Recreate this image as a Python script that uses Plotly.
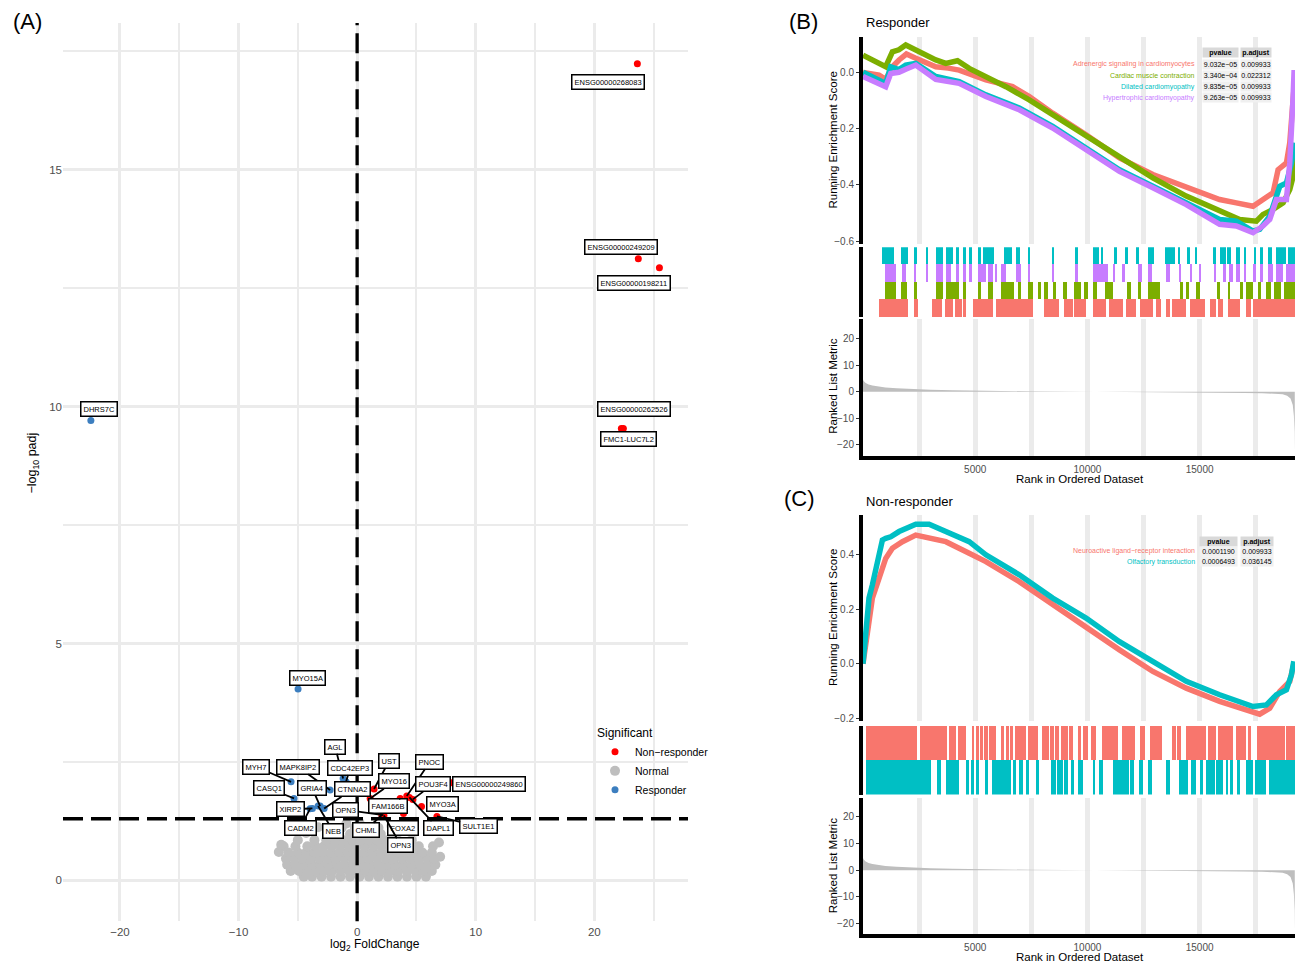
import plotly.graph_objects as go

W, H = 1306, 967
FONT = "Liberation Sans, Arial, sans-serif"
TICK = "#4D4D4D"
GRID = "#EBEBEB"

# ================= Panel A : volcano data =================
nonresp_gene = ["ENSG00000268083", "ENSG00000249209", "ENSG00000198211", "ENSG00000262526",
                "FMC1-LUC7L2", "UST", "MYO16", "FAM166B", "PNOC", "POU3F4", "ENSG00000249860",
                "MYO3A", "DAPL1", "FOXA2", "OPN3", "CHML", "OPN3", "SULT1E1"]
nonresp_lfc = [23.63, 23.71, 25.49, 22.45, 22.28, 1.43, 1.10, 3.63, 4.19, 4.70, 7.99,
               5.43, 4.41, 3.91, 2.22, 2.08, 2.26, 6.73]
nonresp_padj = [17.24, 13.12, 12.93, 9.54, 9.54, 1.93, 1.73, 1.73, 1.78, 1.71, 2.06,
                1.56, 1.75, 1.41, 1.38, 1.38, 1.37, 1.35]

resp_gene = ["DHRS7C", "MYO15A", "MYH7", "CASQ1", "MAPK8IP2", "GRIA4", "XIRP2", "CADM2",
             "NEB", "CTNNA2", "AGL", "CDC42EP3"]
resp_lfc = [-22.45, -4.98, -5.57, -5.32, -2.28, -3.12, -3.77, -3.97, -3.29, -2.78, -1.18, -0.93]
resp_padj = [9.71, 4.04, 2.08, 1.73, 1.91, 1.57, 1.52, 1.51, 1.57, 1.52, 2.15, 2.08]

normal_lfc = [
    -4.5, -3.8, -3.0, -2.2, -1.4, -0.6, 0.2, 1.0, 1.8, 2.6, 3.4, 4.2, 5.0, 5.8,
    -5.6, -4.9, -4.2, -3.5, -2.8, -2.1, -1.4, -0.7, 0.0, 0.7, 1.4, 2.1, 2.8, 3.5, 4.2, 4.9, 5.6, 6.3,
    -5.9, -5.2, -4.5, -3.8, -3.1, -2.4, -1.7, -1.0, -0.3, 0.4, 1.1, 1.8, 2.5, 3.2, 3.9, 4.6, 5.3, 6.0, 6.6,
    -6.0, -5.3, -4.6, -3.9, -3.2, -2.5, -1.8, -1.1, -0.4, 0.3, 1.0, 1.7, 2.4, 3.1, 3.8, 4.5, 5.2, 5.9, 6.5,
    -5.8, -5.0, -4.3, -3.6, -2.9, -2.2, -1.5, -0.8, -0.1, 0.6, 1.3, 2.0, 2.7, 3.4, 4.1, 4.8, 5.5, 6.3,
    -6.2, -5.2, -4.2, -3.5, -2.8, -2.1, -1.4, -0.7, 0.0, 0.7, 1.4, 2.1, 2.8, 3.5, 4.3, 5.2, 6.4,
    -5.0, -3.6, -2.6, -1.8, -1.1, -0.4, 0.3, 1.0, 1.7, 2.5, 3.4, 4.6,
    -2.4, -1.5, -0.6, 0.3, 1.2, 2.0, 3.0,
    -1.3, -0.2, 0.9, 1.8,
    -6.6, 7.0, -6.4, 6.9, -4.3, 4.1, -3.3, 2.9, 0.2, -0.9]
normal_padj = (
    [0.08] * 14 + [0.20] * 18 + [0.33] * 19 + [0.46] * 19 + [0.59] * 18 + [0.72] * 17 +
    [0.85] * 12 + [0.98] * 7 + [1.11] * 4 +
    [0.60, 0.50, 0.75, 0.80, 1.00, 1.05, 1.12, 1.15, 1.22, 1.20])

lfc_cut = 0.0
padj_cut = 1.301          # -log10(0.05)

# label box offsets in pixels (dx, dy) and whether a connector segment is drawn
nonresp_lab = [(-29, 18, False), (-17, -12, False), (-25, 15, False), (11, -19, False),
               (7, 11, False), (15, -28, True), (24, -17, True), (-12, 8, True), (23, -34, True),
               (20, -15, True), (37, 1, False), (21, -2, False), (29, 31, True), (0, 14, False),
               (-38, -5, True), (-16, 15, True), (17, 30, True), (42, 10, True)]
resp_lab = [(8, -11, False), (9, -11, False), (-35, -15, True), (-25, -10, True),
            (-32, -23, True), (-8, -18, True), (-22, 1, True), (-10, 19, True),
            (15, 25, True), (28, -19, True), (-8, -32, True), (4, -14, True)]

# ================= Panels B / C : GSEA data =================
metric_rank = [0, 30, 120, 250, 420, 700, 1000, 1500, 2000, 2500, 3000, 4000, 5000, 6000, 7500,
               9000, 10300, 10400, 11000, 11100, 12500, 14000, 15000, 16000, 17000, 17800,
               18300, 18700, 18900, 19050, 19150, 19200, 19230, 19240]
metric_value = [4.6, 4.0, 3.3, 2.7, 2.3, 1.9, 1.6, 1.25, 1.0, 0.85, 0.7, 0.5, 0.35, 0.25, 0.15,
                0.08, 0.03, 0.0, 0.0, -0.03, -0.1, -0.18, -0.25, -0.35, -0.45, -0.55,
                -0.7, -1.0, -1.5, -2.6, -5.0, -9.0, -15.0, -22.5]

resp_sets = ["Adrenergic signaling in cardiomyocytes", "Cardiac muscle contraction",
             "Dilated cardiomyopathy", "Hypertrophic cardiomyopathy"]
resp_pvalue = ["9.032e−05", "3.340e−04", "9.835e−05", "9.263e−05"]
resp_padjust = ["0.009933", "0.022312", "0.009933", "0.009933"]

adrenergic_rank = [0, 714, 1012, 1310, 1607, 1934, 2351, 2800, 3244, 3800, 4285, 5476, 6666, 7410,
                   8452, 9940, 11428, 12916, 14404, 15892, 16636, 17380, 17826, 18273, 18496,
                   18868, 19017, 19092, 19166, 19240]
adrenergic_es = [0.0, -0.01, -0.025, 0.02, 0.044, 0.065, 0.05, 0.035, 0.02, 0.015, 0.008, -0.027,
                 -0.051, -0.086, -0.145, -0.222, -0.304, -0.363, -0.41, -0.452, -0.464, -0.476,
                 -0.452, -0.428, -0.346, -0.322, -0.25, -0.145, -0.05, -0.02]
cardiac_rank = [0, 1012, 1310, 1600, 1905, 2351, 2800, 3244, 3690, 4211, 4732, 5476, 6369, 7410,
                8452, 9940, 11428, 12916, 14404, 15892, 16785, 17529, 17826, 18273, 18719,
                19017, 19166, 19240]
cardiac_es = [0.061, 0.02, 0.073, 0.08, 0.097, 0.079, 0.06, 0.044, 0.032, 0.041, 0.014, -0.015,
              -0.051, -0.098, -0.151, -0.228, -0.304, -0.375, -0.44, -0.493, -0.523, -0.529,
              -0.505, -0.487, -0.464, -0.417, -0.37, -0.30]
dilated_rank = [0, 1012, 1235, 1600, 1905, 2351, 3244, 4285, 5476, 6964, 8452, 9940, 11428,
                12916, 14404, 15892, 16636, 17380, 17677, 18124, 18570, 18868, 19092, 19196, 19240]
dilated_es = [0.0, -0.04, 0.02, 0.01, 0.026, 0.032, -0.015, -0.033, -0.08, -0.127, -0.192,
              -0.269, -0.346, -0.405, -0.464, -0.523, -0.529, -0.564, -0.558, -0.511, -0.405,
              -0.393, -0.322, -0.275, -0.25]
hypertrophic_rank = [0, 1012, 1235, 1600, 1905, 2351, 3244, 4285, 5476, 6964, 8452, 9940, 11428,
                     12916, 14404, 15892, 16636, 17380, 17826, 18124, 18421, 18868, 19017,
                     19166, 19211]
hypertrophic_es = [-0.015, -0.051, -0.004, 0.0, 0.011, 0.026, -0.025, -0.039, -0.086, -0.133,
                   -0.198, -0.275, -0.352, -0.41, -0.47, -0.54, -0.546, -0.57, -0.546, -0.523,
                   -0.452, -0.452, -0.322, -0.086, 0.008]

hits_adrenergic = [[714, 2024], [2277, 2455], [3095, 3541], [3660, 4018], [4107, 4404], [4464, 4583],
                   [4881, 5773], [5922, 7559], [8080, 8749], [8973, 9345], [9419, 9940],
                   [10267, 10833], [10952, 11577], [11725, 12172], [12321, 12916], [13035, 13288],
                   [13511, 13660], [13779, 14404], [14553, 15222], [15445, 15743], [15817, 16041],
                   [16264, 16785], [17082, 17305], [17380, 19240]]
hits_cardiac = [[967, 1488], [1682, 1979], [2277, 2426], [3274, 3571], [3720, 4285], [4434, 4583],
                [5104, 5253], [5550, 5773], [6145, 6741], [6889, 7038], [7336, 7559], [7782, 7931],
                [8080, 8229], [8452, 8601], [8898, 9077], [9419, 9717], [9865, 10014],
                [10267, 10416], [10803, 11130], [11755, 11949], [12246, 12395], [12693, 13213],
                [14106, 14255], [14404, 14523], [14850, 14999], [15817, 15892], [16264, 16368],
                [16815, 16934], [17082, 17380], [17603, 17752], [17975, 18198], [18302, 18645],
                [18749, 19240]]
hits_dilated = [[833, 1384], [1682, 2024], [2277, 2426], [2828, 2916], [3274, 3571], [3690, 3988],
                [4166, 4256], [4464, 4583], [4762, 4851], [5104, 5253], [5327, 5848], [6294, 6637],
                [6815, 6994], [7336, 7440], [8422, 8526], [9464, 9568], [10267, 10535],
                [10610, 10714], [11205, 11309], [11696, 11800], [12172, 12291], [12693, 12946],
                [13437, 13883], [14032, 14136], [14434, 14553], [14776, 14880], [15594, 15743],
                [15892, 16160], [16219, 16413], [16607, 16815], [16964, 17082], [17410, 17529],
                [17708, 17826], [18050, 18243], [18392, 18868], [18943, 19240]]
hits_hypertrophic = [[967, 1488], [1726, 1934], [2277, 2381], [2797, 2916], [3274, 3571],
                     [3720, 3913], [4137, 4256], [4434, 4583], [4762, 4851], [5104, 5476],
                     [5550, 5773], [5892, 5952], [6145, 6369], [6815, 7038], [7336, 7440],
                     [8452, 8526], [9464, 9568], [10267, 10907], [11130, 11249], [11547, 11696],
                     [12246, 12440], [12693, 12886], [13511, 13660], [14106, 14181], [14553, 14642],
                     [14999, 15073], [15669, 15743], [16041, 16190], [16308, 16487], [16636, 16815],
                     [17008, 17082], [17380, 17529], [17677, 17826], [18050, 18273], [18421, 18719],
                     [18868, 19240]]

nonresp_sets = ["Neuroactive ligand−receptor interaction", "Olfactory transduction"]
nonresp_pvalue = ["0.0001190", "0.0006493"]
nonresp_padjust = ["0.009933", "0.036145"]

neuro_rank = [0, 268, 417, 714, 1012, 1310, 1756, 2351, 2946, 3690, 4732, 5476, 6964, 8452, 9940,
              11428, 12916, 14404, 15892, 17380, 17677, 18124, 18570, 19017, 19196]
neuro_es = [0.0, 0.179, 0.24, 0.312, 0.385, 0.422, 0.446, 0.47, 0.458, 0.446, 0.404, 0.373, 0.3,
            0.215, 0.136, 0.051, -0.028, -0.089, -0.137, -0.174, -0.184, -0.162, -0.101, -0.064, 0.0]
olf_rank = [0, 193, 268, 417, 565, 714, 863, 1012, 1235, 1607, 2053, 2351, 2946, 3690, 4732, 5476,
            6964, 8452, 9940, 11428, 12916, 14404, 15892, 16636, 17380, 17975, 18421, 18868,
            19092, 19196]
olf_es = [0.0, 0.167, 0.24, 0.288, 0.349, 0.385, 0.452, 0.458, 0.464, 0.483, 0.5, 0.51, 0.51,
          0.483, 0.446, 0.398, 0.325, 0.24, 0.167, 0.081, 0.009, -0.064, -0.113, -0.137, -0.156,
          -0.15, -0.113, -0.095, -0.04, 0.009]

hits_neuro = [[119, 2426], [2530, 3765], [3839, 4137], [4211, 4583], [4851, 4955], [5029, 5178],
              [5253, 5327], [5401, 5550], [5625, 5922], [6145, 6294], [6369, 6517], [6592, 6666],
              [6785, 7261], [7336, 7782], [7976, 8303], [8333, 8526], [8571, 8749], [8824, 9121],
              [9196, 9345], [9568, 9717], [9791, 10014], [10163, 10386], [10654, 11353],
              [11547, 12142], [12321, 12544], [12797, 13332], [13779, 13928], [13987, 14181],
              [14404, 15297], [15371, 15743], [15817, 16487], [16636, 17082], [17157, 17305],
              [17558, 18793], [18868, 19240]]
hits_olf = [[119, 2351], [2381, 3021], [3318, 3467], [3690, 4285], [4583, 4732], [4806, 4955],
            [5029, 5148], [5446, 5550], [5744, 6592], [6666, 6815], [6934, 7113], [7261, 7380],
            [7708, 7827], [8377, 8601], [8630, 8898], [8973, 9121], [9270, 9419], [9568, 9821],
            [10237, 10356], [10535, 10714], [11130, 11874], [11904, 12097], [12291, 12469],
            [12693, 12886], [13511, 13660], [14076, 14478], [14627, 14850], [14999, 15148],
            [15297, 15669], [15743, 16041], [16160, 16264], [16368, 16487], [16666, 16785],
            [17082, 17380], [17454, 17975], [18094, 19240]]

rank_ticks = [5000, 10000, 15000]
rank_tick_text = ["5000", "10000", "15000"]

RED, GREEN, CYAN, PURPLE = "#F8766D", "#7CAE00", "#00BFC4", "#C77CFF"
RANK_RANGE = [0, 19250]

# ================= helpers =================
def xdom(p0, p1):
    return [p0 / W, p1 / W]


def ydom(p0, p1):
    return [1 - p1 / H, 1 - p0 / H]


def px(x):
    return x / W


def py(y):
    return 1 - y / H


fig = go.Figure()
ann = []

# ---------- Panel A traces ----------
fig.add_trace(go.Scatter(x=normal_lfc, y=normal_padj, mode="markers", name="Normal",
                         marker=dict(color="#BEBEBE", size=10), legendrank=2,
                         xaxis="x", yaxis="y", hoverinfo="skip"))
fig.add_trace(go.Scatter(x=nonresp_lfc, y=nonresp_padj, mode="markers", name="Non−responder",
                         marker=dict(color="#FF0000", size=7), legendrank=1,
                         xaxis="x", yaxis="y", text=nonresp_gene))
fig.add_trace(go.Scatter(x=resp_lfc, y=resp_padj, mode="markers", name="Responder",
                         marker=dict(color="#3C7EBF", size=7), legendrank=3,
                         xaxis="x", yaxis="y", text=resp_gene))


def add_labels(genes, xs, ys, labs):
    for g, x, y, (dx, dy, seg) in zip(genes, xs, ys, labs):
        common = dict(x=x, y=y, xref="x", yref="y", text=g,
                      font=dict(size=7.5, color="black", family=FONT),
                      bgcolor="white", bordercolor="black", borderwidth=1.5, borderpad=2)
        if seg:
            ann.append(dict(**common, showarrow=True, ax=dx, ay=dy, arrowhead=0,
                            arrowwidth=1.8, arrowcolor="black", standoff=0))
        else:
            ann.append(dict(**common, showarrow=False, xshift=dx, yshift=-dy))


add_labels(nonresp_gene, nonresp_lfc, nonresp_padj, nonresp_lab)
add_labels(resp_gene, resp_lfc, resp_padj, resp_lab)

shapes = [
    dict(type="line", xref="x", yref="y domain", x0=lfc_cut, x1=lfc_cut, y0=0, y1=1,
         line=dict(color="black", width=3.3, dash="20px,8px")),
    dict(type="line", xref="x domain", yref="y", x0=0, x1=1, y0=padj_cut, y1=padj_cut,
         line=dict(color="black", width=3.3, dash="20px,8px")),
]

# ---------- GSEA traces ----------
def es_line(xs, ys, color, ax):
    fig.add_trace(go.Scatter(x=xs, y=ys, mode="lines", line=dict(color=color, width=5.5),
                             showlegend=False, xaxis="x" + ax, yaxis="y" + ax, hoverinfo="skip"))


def hit_bars(intervals, base, color, ax):
    centers = [(a + b) / 2 for a, b in intervals]
    widths = [b - a for a, b in intervals]
    fig.add_trace(go.Bar(x=centers, width=widths, y=[1] * len(intervals),
                         base=[base] * len(intervals), marker=dict(color=color, line=dict(width=0)),
                         showlegend=False, xaxis="x" + ax, yaxis="y" + ax, hoverinfo="skip"))


def metric_area(ax):
    fig.add_trace(go.Scatter(x=metric_rank, y=metric_value, mode="lines", fill="tozeroy",
                             fillcolor="#BEBEBE", line=dict(width=0, color="#BEBEBE"),
                             showlegend=False, xaxis="x" + ax, yaxis="y" + ax, hoverinfo="skip"))


# Panel B
es_line(adrenergic_rank, adrenergic_es, RED, "2")
es_line(cardiac_rank, cardiac_es, GREEN, "2")
es_line(dilated_rank, dilated_es, CYAN, "2")
es_line(hypertrophic_rank, hypertrophic_es, PURPLE, "2")
hit_bars(hits_adrenergic, 0, RED, "3")
hit_bars(hits_cardiac, 1, GREEN, "3")
hit_bars(hits_hypertrophic, 2, PURPLE, "3")
hit_bars(hits_dilated, 3, CYAN, "3")
metric_area("4")

# Panel C
es_line(neuro_rank, neuro_es, RED, "5")
es_line(olf_rank, olf_es, CYAN, "5")
hit_bars(hits_neuro, 1, RED, "6")
hit_bars(hits_olf, 0, CYAN, "6")
metric_area("7")

# ---------- axes ----------
tickfont = dict(family=FONT, size=11.5, color=TICK)
small_tick = dict(family=FONT, size=10, color=TICK)

layout_axes = dict(
    xaxis=dict(domain=xdom(63, 688), anchor="y", range=[-24.8, 27.9], tick0=0, dtick=10,
               showgrid=True, gridcolor=GRID, gridwidth=2.7, zeroline=False, showline=False,
               ticks="", tickfont=tickfont, ticklabelstandoff=2,
               minor=dict(dtick=5, tick0=0, showgrid=True, gridcolor=GRID, gridwidth=1.7)),
    yaxis=dict(domain=ydom(23, 924), anchor="x", range=[-0.86, 18.1], tick0=0, dtick=5,
               showgrid=True, gridcolor=GRID, gridwidth=2.7, zeroline=False, showline=False,
               ticks="", tickfont=tickfont,
               minor=dict(dtick=2.5, tick0=0, showgrid=True, gridcolor=GRID, gridwidth=1.7)),
)

rank_minor = dict(tick0=0, dtick=2500, showgrid=True, gridcolor=GRID, gridwidth=5)


def gsea_axes(n_es, n_hit, n_met, es_px, hit_px, met_px, es_range, es_ticks, es_text, hit_rows):
    xd = xdom(863, 1295)
    d = {}
    d["xaxis" + n_es] = dict(domain=xd, anchor="y" + n_es, range=RANK_RANGE, tickvals=rank_ticks,
                             showticklabels=False, showgrid=True, gridcolor=GRID, gridwidth=5,
                             zeroline=False, showline=False, ticks="", minor=rank_minor)
    d["yaxis" + n_es] = dict(domain=ydom(*es_px), anchor="x" + n_es, range=es_range,
                             tickvals=es_ticks, ticktext=es_text, showgrid=False, zeroline=False,
                             showline=True, linecolor="black", linewidth=4, ticks="outside",
                             ticklen=3, tickcolor="#333333", tickfont=small_tick)
    d["xaxis" + n_hit] = dict(domain=xd, anchor="y" + n_hit, range=RANK_RANGE,
                              showticklabels=False, showgrid=False, zeroline=False,
                              showline=False, ticks="")
    d["yaxis" + n_hit] = dict(domain=ydom(*hit_px), anchor="x" + n_hit, range=[0, hit_rows],
                              showticklabels=False, showgrid=False, zeroline=False,
                              showline=True, linecolor="black", linewidth=4, ticks="")
    d["xaxis" + n_met] = dict(domain=xd, anchor="y" + n_met, range=RANK_RANGE,
                              tickvals=rank_ticks, ticktext=rank_tick_text, showgrid=True,
                              gridcolor=GRID, gridwidth=5, zeroline=False, showline=True,
                              linecolor="black", linewidth=4, ticks="", tickfont=small_tick,
                              ticklabelstandoff=1, minor=rank_minor)
    d["yaxis" + n_met] = dict(domain=ydom(*met_px), anchor="x" + n_met, range=[-24, 27.3],
                              tickvals=[-20, -10, 0, 10, 20],
                              ticktext=["−20", "−10", "0", "10", "20"], showgrid=False,
                              zeroline=False, showline=True, linecolor="black", linewidth=4,
                              ticks="outside", ticklen=3, tickcolor="#333333", tickfont=small_tick)
    return d


layout_axes.update(gsea_axes("2", "3", "4", (37, 245), (248, 318), (320, 457),
                             [-0.611, 0.126], [-0.6, -0.4, -0.2, 0.0],
                             ["−0.6", "−0.4", "−0.2", "0.0"], 4))
layout_axes.update(gsea_axes("5", "6", "7", (517, 723), (728, 797), (800, 937),
                             [-0.208, 0.542], [-0.2, 0.0, 0.2, 0.4],
                             ["−0.2", "0.0", "0.2", "0.4"], 2))

# ---------- text annotations ----------
def txt(x, y, s, size, color="black", angle=0, xanchor="center", bold=False):
    ann.append(dict(x=px(x), y=py(y), xref="paper", yref="paper", text=("<b>%s</b>" % s) if bold else s,
                    showarrow=False, textangle=angle, xanchor=xanchor, yanchor="middle",
                    font=dict(family=FONT, size=size, color=color)))


txt(27, 22, "(A)", 22)
txt(803, 22, "(B)", 22)
txt(800, 500, "(C)", 22)
txt(375, 948, "log<sub>2</sub> FoldChange", 12)
txt(33, 465, "−log<sub>10</sub> padj", 12.5, angle=-90)
txt(864, 23, "Responder", 13, xanchor="left")
txt(864, 503, "Non-responder", 13, xanchor="left")
txt(833, 141, "Running Enrichment Score", 11.5, angle=-90)
txt(833, 388, "Ranked List Metric", 11.5, angle=-90)
txt(1080, 480.5, "Rank in Ordered Dataset", 11.5)
txt(833, 620, "Running Enrichment Score", 11.5, angle=-90)
txt(833, 869, "Ranked List Metric", 11.5, angle=-90)
txt(1080, 959.5, "Rank in Ordered Dataset", 11.5)


def cell(x, y, s, w, bg, bold=False):
    ann.append(dict(x=px(x), y=py(y), xref="paper", yref="paper",
                    text=("<b>%s</b>" % s) if bold else s, showarrow=False,
                    xanchor="center", yanchor="middle", width=w, height=9, bgcolor=bg,
                    borderpad=0, font=dict(family=FONT, size=7, color="black")))


def table(names, colors, pvals, padjs, header_y, row_ys, pcol, pw, acol, aw):
    cell(pcol, header_y, "pvalue", pw, "#D9D9D9", bold=True)
    cell(acol, header_y, "p.adjust", aw, "#D9D9D9", bold=True)
    for nm, col, pv, pa, ry in zip(names, colors, pvals, padjs, row_ys):
        ann.append(dict(x=px(1197), y=py(ry), xref="paper", yref="paper", text=nm,
                        showarrow=False, xanchor="right", yanchor="middle",
                        font=dict(family=FONT, size=7, color=col)))
        cell(pcol, ry, pv, pw, "#F0F0F0")
        cell(acol, ry, pa, aw, "#F0F0F0")


table(resp_sets, [RED, GREEN, CYAN, PURPLE], resp_pvalue, resp_padjust,
      53, [64.5, 75.8, 87, 98.2], 1220.5, 35, 1255.5, 30)
table(nonresp_sets, [RED, CYAN], nonresp_pvalue, nonresp_padjust,
      542.7, [552.8, 563.5], 1218.5, 37, 1256.5, 32)

fig.update_layout(
    width=W, height=H, margin=dict(l=0, r=0, t=0, b=0), autosize=False,
    paper_bgcolor="white", plot_bgcolor="white", barmode="overlay", bargap=0,
    font=dict(family=FONT, color="black"),
    showlegend=True,
    legend=dict(x=px(595), y=py(724), xanchor="left", yanchor="top",
                title=dict(text="Significant", font=dict(family=FONT, size=12, color="black")),
                font=dict(family=FONT, size=10.5, color="black"), bgcolor="rgba(0,0,0,0)",
                itemsizing="trace", tracegroupgap=0),
    annotations=ann, shapes=shapes,
    **layout_axes,
)

fig.write_html("out.html")
